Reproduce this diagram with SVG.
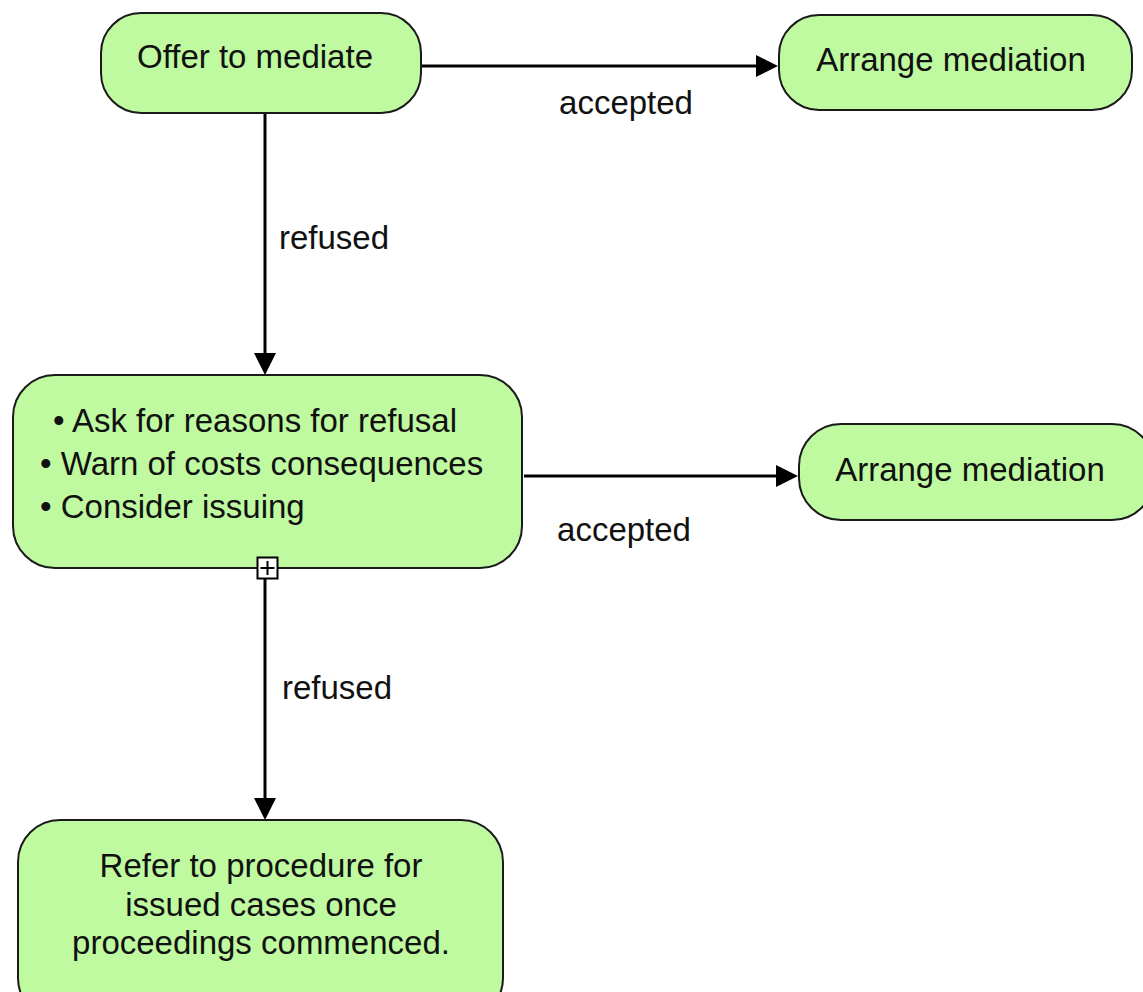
<svg xmlns="http://www.w3.org/2000/svg" width="1143" height="992" viewBox="0 0 1143 992">
<style>
.node{fill:#bff9a0;stroke:#1a1a1a;stroke-width:2}
.t{font-family:"Liberation Sans",Arial,sans-serif;font-size:33px;fill:#111}
.c{text-anchor:middle}
.edge{stroke:#000;stroke-width:3;fill:none}
.head{fill:#000}
</style>
<g id="connectors">
<path class="edge" d="M422,66 H760"/>
<path class="head" d="M778,66 L756,55 L756,77 z"/>
<path class="edge" d="M265,114 V355"/>
<path class="head" d="M265,375 L254,353 L276,353 z"/>
<path class="edge" d="M524,476 H780"/>
<path class="head" d="M798,476 L776,465 L776,487 z"/>
<path class="edge" d="M265,579 V800"/>
<path class="head" d="M265,820 L254,798 L276,798 z"/>
<text class="t c" x="626" y="114">accepted</text>
<text class="t c" x="334" y="249">refused</text>
<text class="t c" x="624" y="541">accepted</text>
<text class="t c" x="337" y="699">refused</text>
</g>
<g id="offer">
<rect class="node" x="101" y="13" width="320" height="100" rx="40"/>
<text class="t c" x="255" y="68">Offer to mediate</text>
</g>
<g id="arrange1">
<rect class="node" x="779" y="15" width="353" height="95" rx="40"/>
<text class="t c" x="951" y="71">Arrange mediation</text>
</g>
<g id="middle">
<rect class="node" x="13" y="375" width="509" height="193" rx="42"/>
<text class="t" x="53" y="432">• Ask for reasons for refusal</text>
<text class="t" x="40" y="475">• Warn of costs consequences</text>
<text class="t" x="40" y="518">• Consider issuing</text>
<rect x="257.5" y="557.5" width="20" height="21" fill="#fff" stroke="#000" stroke-width="2"/>
<path d="M267.5,561 V575 M260.5,568 H274.5" stroke="#000" stroke-width="2"/>
</g>
<g id="arrange2">
<rect class="node" x="799" y="424" width="355" height="96" rx="42"/>
<text class="t c" x="970" y="481">Arrange mediation</text>
</g>
<g id="refer">
<rect class="node" x="18" y="820" width="485" height="200" rx="42"/>
<text class="t c" x="261" y="877">Refer to procedure for</text>
<text class="t c" x="261" y="916">issued cases once</text>
<text class="t c" x="261" y="954">proceedings commenced.</text>
</g>
</svg>
